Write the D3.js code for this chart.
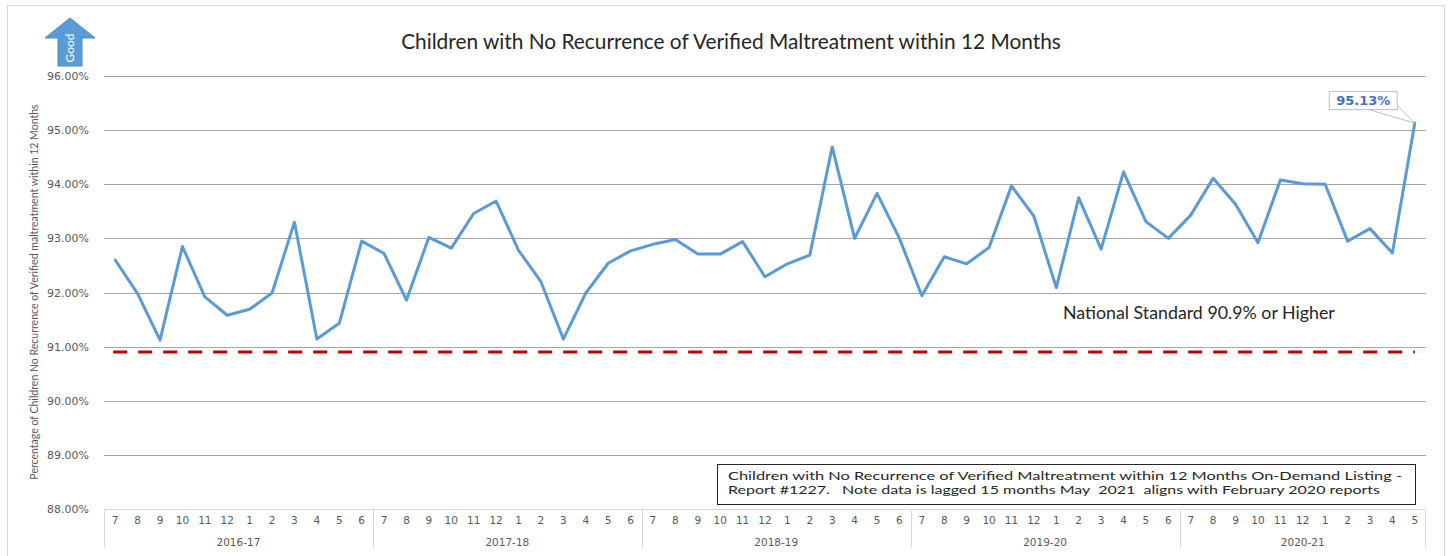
<!DOCTYPE html>
<html>
<head>
<meta charset="utf-8">
<script src="https://cdn.jsdelivr.net/npm/d3@7"></script>
<style>
  body { margin: 0; background: #fff; }
  svg { display: block; }
</style>
</head>
<body>
<div id="chart"></div>
<script>
// fiscal years and the month labels under each one
const fiscalYears = ["2016-17", "2017-18", "2018-19", "2019-20", "2020-21"];
const monthsByYear = [
  [7, 8, 9, 10, 11, 12, 1, 2, 3, 4, 5, 6],
  [7, 8, 9, 10, 11, 12, 1, 2, 3, 4, 5, 6],
  [7, 8, 9, 10, 11, 12, 1, 2, 3, 4, 5, 6],
  [7, 8, 9, 10, 11, 12, 1, 2, 3, 4, 5, 6],
  [7, 8, 9, 10, 11, 12, 1, 2, 3, 4, 5]
];

// percentage of children with no recurrence, one per month
const values = [
  92.60, 91.98, 91.12, 92.85, 91.92, 91.58, 91.69, 91.99, 93.30, 91.14, 91.43, 92.95,
  92.72, 91.86, 93.02, 92.82, 93.46, 93.69, 92.78, 92.20, 91.14, 91.99, 92.54, 92.77,
  92.89, 92.98, 92.71, 92.71, 92.94, 92.29, 92.53, 92.69, 94.69, 93.00, 93.83, 93.00,
  91.94, 92.66, 92.53, 92.83, 93.97, 93.41, 92.09, 93.75, 92.80, 94.23, 93.31, 93.00,
  93.43, 94.11, 93.63, 92.92, 94.08, 94.01, 94.00, 92.95, 93.18, 92.73, 95.13
];

const nationalStandard = 90.9;
const yTicks = [88, 89, 90, 91, 92, 93, 94, 95, 96];

const titleText = "Children with No Recurrence of Verified Maltreatment within 12 Months";
const yTitle = "Percentage of Children No Recurrence of Verified maltreatment within 12 Months";
const standardText = "National Standard 90.9% or Higher";
const noteLines = [
  "Children with No Recurrence of Verified Maltreatment within 12 Months On-Demand Listing -",
  "Report #1227.   Note data is lagged 15 months May  2021  aligns with February 2020 reports"
];

// flatten the categories
const categories = [];
monthsByYear.forEach((ms, g) => ms.forEach(m => categories.push({ fy: fiscalYears[g], month: m })));
const data = values.map((v, i) => ({ i, v, month: categories[i].month }));

const width = 1450;
const height = 556;
const margin = { top: 76, right: 24, bottom: 47, left: 104 };

const svg = d3.select("#chart").append("svg")
  .attr("width", width)
  .attr("height", height);

// chart frame
svg.append("rect")
  .attr("x", 7.5).attr("y", 5.5)
  .attr("width", 1437).attr("height", 560)
  .attr("fill", "none")
  .attr("stroke", "#d9d9d9");

const x = d3.scaleBand()
  .domain(d3.range(categories.length))
  .range([margin.left, width - margin.right])
  .padding(0);

const y = d3.scaleLinear()
  .domain([88, 96])
  .range([height - margin.bottom, margin.top]);

const cx = i => x(i) + x.bandwidth() / 2;

// scale a text's font so it spans a target width
function fit(sel, w) {
  const len = sel.node().getComputedTextLength();
  const fs = parseFloat(sel.style("font-size"));
  sel.style("font-size", (fs * w / len) + "px");
  return sel;
}

// gridlines
svg.append("g")
  .selectAll("line")
  .data(yTicks)
  .join("line")
  .attr("x1", margin.left)
  .attr("x2", width - margin.right)
  .attr("y1", d => Math.round(y(d)) + 0.5)
  .attr("y2", d => Math.round(y(d)) + 0.5)
  .attr("stroke", d => d === 88 ? "#d9d9d9" : "#a6a6a6")
  .attr("stroke-width", 1);

// y axis labels
const yAxis = d3.axisLeft(y)
  .tickValues(yTicks)
  .tickSize(0)
  .tickPadding(0)
  .tickFormat(d => d3.format(".2f")(d) + "%");

svg.append("g")
  .attr("transform", `translate(89,0)`)
  .call(yAxis)
  .call(g => g.select(".domain").remove())
  .selectAll("text")
  .attr("fill", "#595959")
  .style("font-family", "DejaVu Sans")
  .style("font-size", "11px");

// month labels
const xAxis = d3.axisBottom(x)
  .tickSize(0)
  .tickPadding(0)
  .tickFormat(i => categories[i].month);

svg.append("g")
  .attr("transform", `translate(0,${y(88) + 8})`)
  .call(xAxis)
  .call(g => g.select(".domain").remove())
  .selectAll("text")
  .attr("fill", "#595959")
  .style("font-family", "DejaVu Sans")
  .style("font-size", "10.5px");

// fiscal year groups
let start = 0;
const groups = fiscalYears.map((fy, g) => {
  const o = { fy, start, end: start + monthsByYear[g].length };
  start = o.end;
  return o;
});

const axisBottomY = height - 8;
const bounds = groups.map(d => d.start).concat([categories.length]);
svg.append("g")
  .selectAll("line")
  .data(bounds)
  .join("line")
  .attr("x1", d => d === categories.length ? x.range()[1] - 0.5 : Math.round(x(d)) + 0.5)
  .attr("x2", d => d === categories.length ? x.range()[1] - 0.5 : Math.round(x(d)) + 0.5)
  .attr("y1", y(88))
  .attr("y2", axisBottomY)
  .attr("stroke", "#d9d9d9");

svg.append("g")
  .selectAll("text")
  .data(groups)
  .join("text")
  .attr("x", d => (x(d.start) + (d.end === categories.length ? x.range()[1] : x(d.end))) / 2)
  .attr("y", 546)
  .attr("text-anchor", "middle")
  .attr("fill", "#595959")
  .style("font-family", "DejaVu Sans")
  .style("font-size", "10.5px")
  .text(d => d.fy);

// national standard dashed line
svg.append("line")
  .attr("x1", cx(0) - 2)
  .attr("x2", cx(categories.length - 1))
  .attr("y1", y(nationalStandard))
  .attr("y2", y(nationalStandard))
  .attr("stroke", "#c00000")
  .attr("stroke-width", 3)
  .attr("stroke-dasharray", "14 11");

// series line
const line = d3.line()
  .x(d => cx(d.i))
  .y(d => y(d.v));

svg.append("path")
  .datum(data)
  .attr("fill", "none")
  .attr("stroke", "#5b9bd5")
  .attr("stroke-width", 3)
  .attr("stroke-linejoin", "round")
  .attr("stroke-linecap", "round")
  .attr("d", line);

// callout on the last value
const last = data[data.length - 1];
const px = cx(last.i), py = y(last.v);
const bx0 = px - 86, bx1 = px - 18, by0 = py - 32, by1 = py - 14;
svg.append("path")
  .attr("d", `M${bx1 - 30},${by1} L${px},${py} L${bx1},${by1 - 4}`)
  .attr("fill", "#fff")
  .attr("stroke", "#bfbfbf");
svg.append("rect")
  .attr("x", bx0 + 0.5).attr("y", by0 + 0.5)
  .attr("width", bx1 - bx0).attr("height", by1 - by0)
  .attr("fill", "#fff")
  .attr("stroke", "#bfbfbf");
svg.append("text")
  .attr("x", (bx0 + bx1) / 2 + 0.5)
  .attr("y", by1 - 4)
  .attr("text-anchor", "middle")
  .attr("fill", "#4472c4")
  .style("font-family", "DejaVu Sans")
  .style("font-weight", "bold")
  .style("font-size", "13px")
  .text(d3.format(".2f")(last.v) + "%");

// title
const title = svg.append("text")
  .attr("x", 731)
  .attr("y", 49)
  .attr("text-anchor", "middle")
  .attr("fill", "#262626")
  .style("font-family", "Lato")
  .style("font-size", "16px")
  .text(titleText);
fit(title, 660);

// y axis title
const yt = svg.append("text")
  .attr("transform", `translate(38,292) rotate(-90)`)
  .attr("text-anchor", "middle")
  .attr("fill", "#595959")
  .style("font-family", "Lato")
  .style("font-size", "11px")
  .text(yTitle);
fit(yt, 376);

// national standard label
const st = svg.append("text")
  .attr("x", 1063)
  .attr("y", 319)
  .attr("fill", "#262626")
  .style("font-family", "Lato")
  .style("font-size", "14px")
  .text(standardText);
fit(st, 272);

// source note box
svg.append("rect")
  .attr("x", 717.5).attr("y", 464.5)
  .attr("width", 698).attr("height", 40)
  .attr("fill", "#fff")
  .attr("stroke", "#262626");
svg.append("g")
  .selectAll("text")
  .data(noteLines)
  .join("text")
  .attr("x", 728)
  .attr("y", (d, i) => 479.5 + i * 14.5)
  .attr("fill", "#262626")
  .style("font-family", "Lato")
  .style("font-size", "12px")
  .style("white-space", "pre")
  .attr("textLength", (d, i) => i === 0 ? 674 : 652)
  .attr("lengthAdjust", "spacingAndGlyphs")
  .text(d => d);

// "Good" arrow
const arrow = svg.append("g");
arrow.append("path")
  .attr("d", "M70,18 L95,38 L82,38 L82,66 L58,66 L58,38 L45,38 Z")
  .attr("fill", "#5b9bd5")
  .attr("stroke", "#4a8ac4")
  .attr("stroke-width", 1);
arrow.append("text")
  .attr("transform", "translate(74,48) rotate(-90)")
  .attr("text-anchor", "middle")
  .attr("fill", "#fff")
  .style("font-family", "Lato")
  .style("font-size", "12px")
  .text("Good");
</script>
</body>
</html>
